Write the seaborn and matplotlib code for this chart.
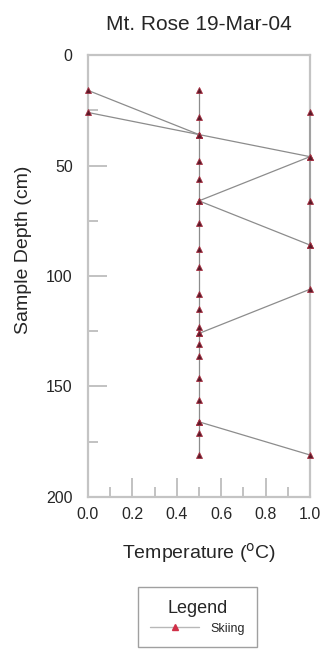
import matplotlib
matplotlib.use("Agg")
import matplotlib.pyplot as plt
from matplotlib.lines import Line2D
from matplotlib.ticker import MultipleLocator, FormatStrFormatter
import seaborn as sns

# readings (deg C, cm below surface) grouped by the traverse they were joined in
temperature_c = [0.5] * 20 + [0.0, 0.5, 1.0, 0.5, 1.0] + [0.0, 0.5] \
    + [1.0, 1.0, 1.0, 1.0, 1.0, 0.5] + [0.5, 1.0]
depth_cm = [16, 28, 36, 48, 56, 66, 76, 88, 96, 108, 115, 123, 126, 131, 136,
            146, 156, 166, 171, 181] \
    + [16, 36, 46, 66, 86] + [26, 36] \
    + [26, 46, 66, 86, 106, 126] + [166, 181]
trace_id = [0] * 20 + [1] * 5 + [2] * 2 + [3] * 6 + [4] * 2

title = "Mt. Rose 19-Mar-04"
series_name = "Skiing"

sns.set_style("white")
plt.rcParams["font.family"] = ["Liberation Sans", "DejaVu Sans"]
text_col = "#262626"

fig = plt.figure(figsize=(3.27, 6.66), dpi=100)
ax = fig.add_axes([0.269, 0.2538, 0.679, 0.6636])

sns.lineplot(x=temperature_c, y=depth_cm, units=trace_id, estimator=None,
             sort=False, color="#8c8c8c", linewidth=0.9, marker="^",
             markersize=5, markerfacecolor="#5a1a28", markeredgecolor="#a83244",
             markeredgewidth=0.6, ax=ax, zorder=4, clip_on=False)

ax.set_xlim(0, 1)
ax.set_ylim(200, 0)
ax.xaxis.set_major_locator(MultipleLocator(0.2))
ax.xaxis.set_minor_locator(MultipleLocator(0.1))
ax.yaxis.set_major_locator(MultipleLocator(50))
ax.yaxis.set_minor_locator(MultipleLocator(25))
ax.xaxis.set_major_formatter(FormatStrFormatter("%.1f"))
ax.tick_params(which="both", direction="in", bottom=True, left=True,
               colors="#b8b8b8", labelcolor=text_col, labelsize=11.5, width=1.2)
ax.tick_params(which="major", length=14)
ax.tick_params(which="minor", length=7)
ax.tick_params(axis="y", pad=11)
ax.tick_params(axis="x", pad=7)
for sp in ax.spines.values():
    sp.set_color("#c4c4c4")
    sp.set_linewidth(1.6)
    sp.set_zorder(3)

ax.set_title(title, fontsize=15, color=text_col, pad=18)
ax.set_xlabel("Temperature ($^{\\rm o}$C)", fontsize=14, color=text_col,
              labelpad=14)
ax.set_ylabel("Sample Depth (cm)", fontsize=14, color=text_col)
ax.yaxis.set_label_coords(-0.25, 0.56)

handle = Line2D([], [], color="#b8b8b8", linewidth=1.0, marker="^",
                markersize=4, markerfacecolor="#d03048",
                markeredgecolor="#d03048")
leg = fig.legend(handles=[handle], labels=[series_name], title="Legend",
                 loc="upper center", bbox_to_anchor=(0.604, 0.128),
                 fontsize=9, title_fontsize=13, frameon=True, fancybox=False,
                 edgecolor="#a0a0a0", framealpha=1, handlelength=3.9,
                 handletextpad=0.9, borderpad=1.0)
leg.get_frame().set_linewidth(1.0)
leg.get_title().set_color(text_col)
for t in leg.get_texts():
    t.set_color(text_col)

fig.savefig("out.png", dpi=100)
